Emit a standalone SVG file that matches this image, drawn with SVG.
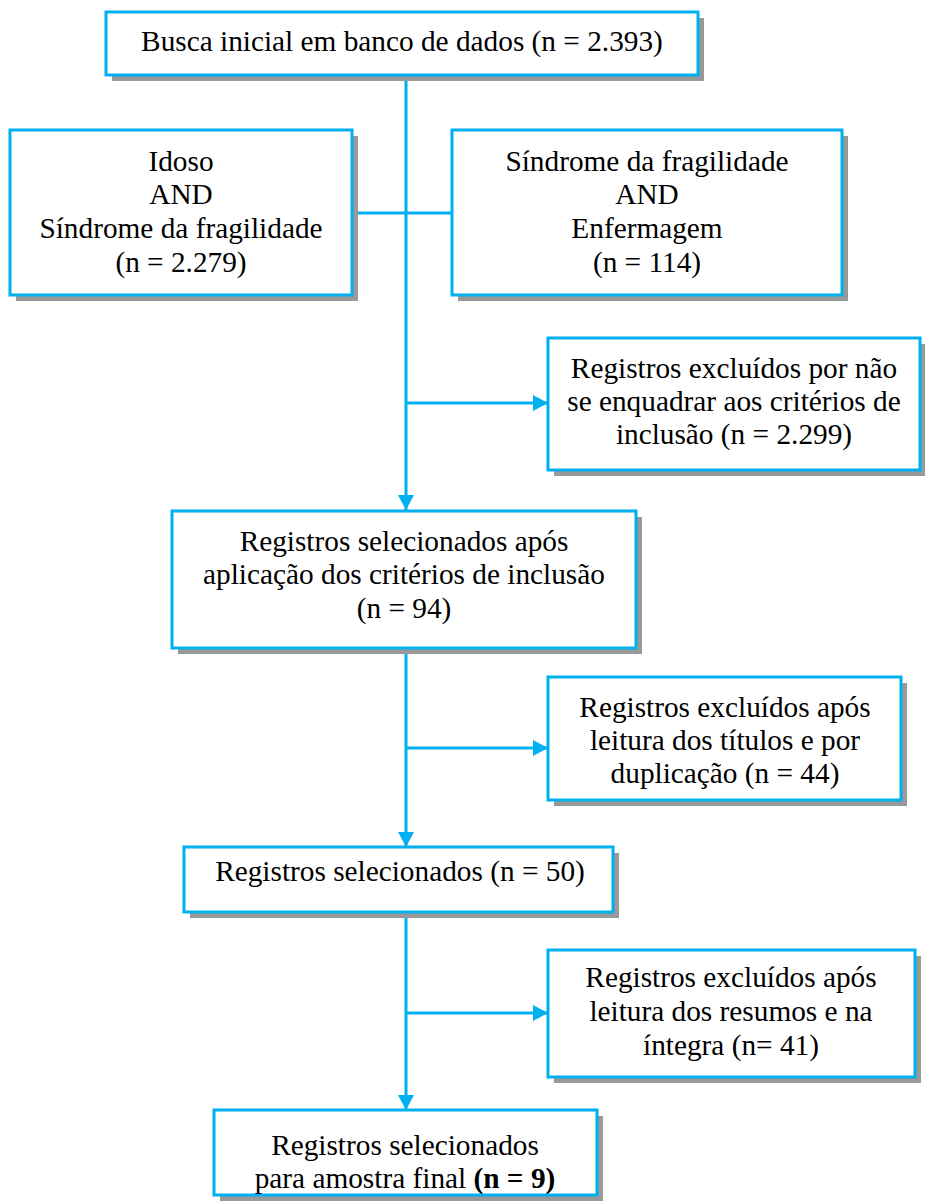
<svg xmlns="http://www.w3.org/2000/svg" width="925" height="1201" viewBox="0 0 925 1201">
<defs>
<style>
.box{fill:#fff;stroke:#00B0F0;stroke-width:3}
.sh{fill:#999}
.t{font-family:"Liberation Serif","Times New Roman",serif;font-size:29.3px;fill:#000;text-anchor:middle}
.ln{stroke:#00B0F0;stroke-width:3;fill:none}
</style>
<marker id="ah" markerWidth="16" markerHeight="16" refX="15" refY="8" orient="auto" markerUnits="userSpaceOnUse">
<path d="M0,0 L15,8 L0,16 Z" fill="#00B0F0"/>
</marker>
</defs>
<rect width="925" height="1201" fill="#fff"/>
<g id="connectors">
<line class="ln" x1="406" y1="75" x2="406" y2="510" marker-end="url(#ah)"/>
<line class="ln" x1="352" y1="213" x2="452" y2="213"/>
<line class="ln" x1="406" y1="403" x2="548" y2="403" marker-end="url(#ah)"/>
<line class="ln" x1="406" y1="649" x2="406" y2="847" marker-end="url(#ah)"/>
<line class="ln" x1="406" y1="748" x2="548" y2="748" marker-end="url(#ah)"/>
<line class="ln" x1="406" y1="912" x2="406" y2="1110" marker-end="url(#ah)"/>
<line class="ln" x1="406" y1="1013" x2="548" y2="1013" marker-end="url(#ah)"/>
</g>
<g id="n1">
<rect class="sh" x="112" y="18" width="592" height="63"/>
<rect class="box" x="106" y="12" width="592" height="63"/>
<text class="t" x="402" y="51">Busca inicial em banco de dados (n = 2.393)</text>
</g>
<g id="n2">
<rect class="sh" x="16" y="136" width="342" height="165"/>
<rect class="box" x="10" y="130" width="342" height="165"/>
<text class="t" x="181" y="171">Idoso</text>
<text class="t" x="181" y="204">AND</text>
<text class="t" x="181" y="238">Síndrome da fragilidade</text>
<text class="t" x="181" y="272">(n = 2.279)</text>
</g>
<g id="n3">
<rect class="sh" x="458" y="136" width="390" height="165"/>
<rect class="box" x="452" y="130" width="390" height="165"/>
<text class="t" x="647" y="171">Síndrome da fragilidade</text>
<text class="t" x="647" y="204">AND</text>
<text class="t" x="647" y="238">Enfermagem</text>
<text class="t" x="647" y="272">(n = 114)</text>
</g>
<g id="n4">
<rect class="sh" x="554" y="344" width="372" height="132"/>
<rect class="box" x="548" y="338" width="372" height="132"/>
<text class="t" x="734" y="378">Registros excluídos por não</text>
<text class="t" x="734" y="411">se enquadrar aos critérios de</text>
<text class="t" x="734" y="444">inclusão (n = 2.299)</text>
</g>
<g id="n5">
<rect class="sh" x="178" y="517" width="464" height="137"/>
<rect class="box" x="172" y="511" width="464" height="137"/>
<text class="t" x="404" y="551">Registros selecionados após</text>
<text class="t" x="404" y="584">aplicação dos critérios de inclusão</text>
<text class="t" x="404" y="618">(n = 94)</text>
</g>
<g id="n6">
<rect class="sh" x="554" y="683" width="353" height="123"/>
<rect class="box" x="548" y="677" width="353" height="123"/>
<text class="t" x="725" y="717">Registros excluídos após</text>
<text class="t" x="725" y="750">leitura dos títulos e por</text>
<text class="t" x="725" y="783">duplicação (n = 44)</text>
</g>
<g id="n7">
<rect class="sh" x="190" y="853" width="429" height="65"/>
<rect class="box" x="184" y="847" width="429" height="65"/>
<text class="t" x="400" y="881">Registros selecionados (n = 50)</text>
</g>
<g id="n8">
<rect class="sh" x="554" y="956" width="367" height="127"/>
<rect class="box" x="548" y="950" width="367" height="127"/>
<text class="t" x="731" y="987">Registros excluídos após</text>
<text class="t" x="731" y="1021">leitura dos resumos e na</text>
<text class="t" x="731" y="1055">íntegra (n= 41)</text>
</g>
<g id="n9">
<rect class="sh" x="220" y="1116" width="383" height="85"/>
<rect class="box" x="214" y="1110" width="383" height="85"/>
<text class="t" x="405" y="1155">Registros selecionados</text>
<text class="t" x="405" y="1188">para amostra final <tspan font-weight="bold">(n = 9)</tspan></text>
</g>
</svg>
